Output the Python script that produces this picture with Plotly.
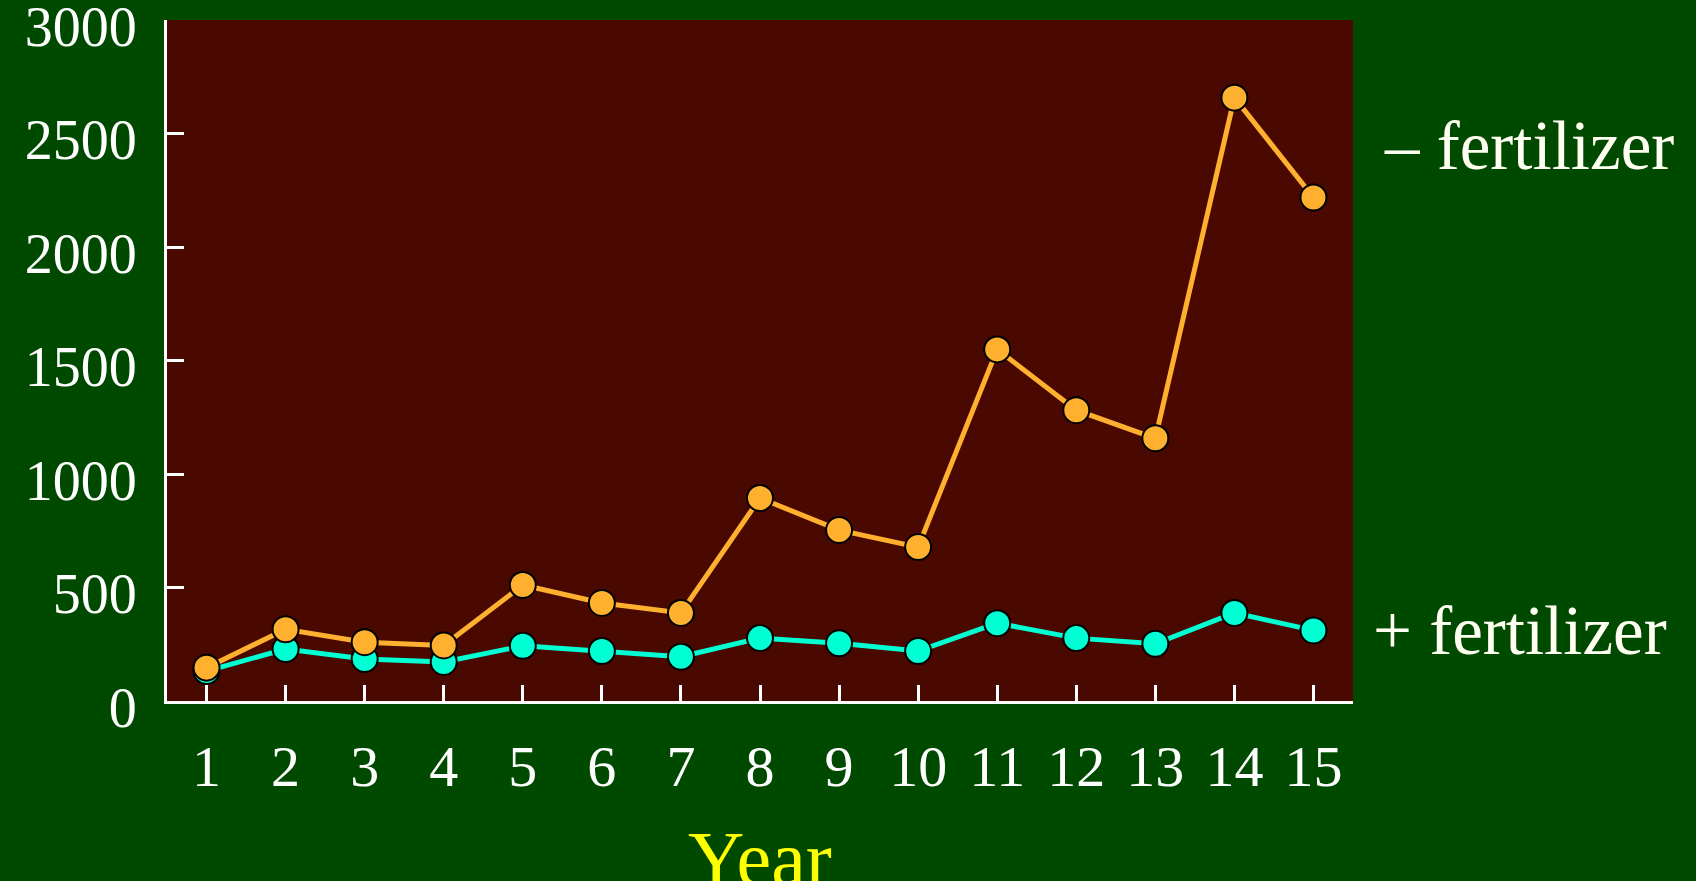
import plotly.graph_objects as go

years = list(range(1, 16))
minus_fert = [147, 316, 259, 245, 511, 432, 388, 894, 753, 678, 1549, 1281, 1157, 2658, 2218]
plus_fert = [132, 229, 185, 172, 243, 220, 195, 277, 254, 220, 343, 277, 252, 388, 311]
y_ticks = [0, 500, 1000, 1500, 2000, 2500, 3000]

BG = "#004a00"
PLOT_BG = "#4a0900"
ORANGE = "#ffb02e"
CYAN = "#00ffd2"
SERIF = "Liberation Serif, Times New Roman, serif"

fig = go.Figure()

# 先画 + fertilizer，再画 − fertilizer（橙色压在上面）
fig.add_trace(go.Scatter(
    x=years, y=plus_fert, mode="lines+markers",
    line=dict(color=CYAN, width=5),
    marker=dict(size=26, color=CYAN, line=dict(color="black", width=2)),
    showlegend=False,
))
fig.add_trace(go.Scatter(
    x=years, y=minus_fert, mode="lines+markers",
    line=dict(color=ORANGE, width=5),
    marker=dict(size=26, color=ORANGE, line=dict(color="black", width=2)),
    showlegend=False,
))

fig.update_layout(
    width=1696, height=881,
    paper_bgcolor=BG, plot_bgcolor=PLOT_BG,
    margin=dict(l=167, r=343, t=20, b=180),
    font=dict(family=SERIF, color="white"),
    xaxis=dict(
        range=[0.5, 15.5], tickmode="array", tickvals=years,
        ticks="inside", ticklen=16, tickwidth=3, tickcolor="white",
        showline=True, linecolor="white", linewidth=3,
        showgrid=False, zeroline=False, automargin=False,
        tickfont=dict(family=SERIF, size=58, color="white"),
        ticklabelstandoff=12,
    ),
    yaxis=dict(
        range=[0, 3000], tickmode="array", tickvals=y_ticks,
        ticks="inside", ticklen=17, tickwidth=3, tickcolor="white",
        showline=True, linecolor="white", linewidth=3,
        showgrid=False, zeroline=False, automargin=False,
        tickfont=dict(family=SERIF, size=56, color="white"),
        ticklabelstandoff=16, ticklabeloverflow="allow", ticklabelshift=6,
    ),
    annotations=[
        dict(text="– fertilizer", xref="paper", yref="paper", x=1.0245, y=0.815,
             xanchor="left", yanchor="middle", showarrow=False,
             font=dict(family=SERIF, size=69, color="#fffff2")),
        dict(text="+ fertilizer", xref="paper", yref="paper", x=1.015, y=0.103,
             xanchor="left", yanchor="middle", showarrow=False,
             font=dict(family=SERIF, size=69, color="#fffff2")),
        dict(text="Year", xref="paper", yref="paper", x=0.5, y=-0.165,
             xanchor="center", yanchor="top", showarrow=False,
             font=dict(family=SERIF, size=78, color="#ffff00")),
    ],
)

fig.write_html("out.html", config={"displayModeBar": False},
               post_script="document.body.style.margin='0';")
